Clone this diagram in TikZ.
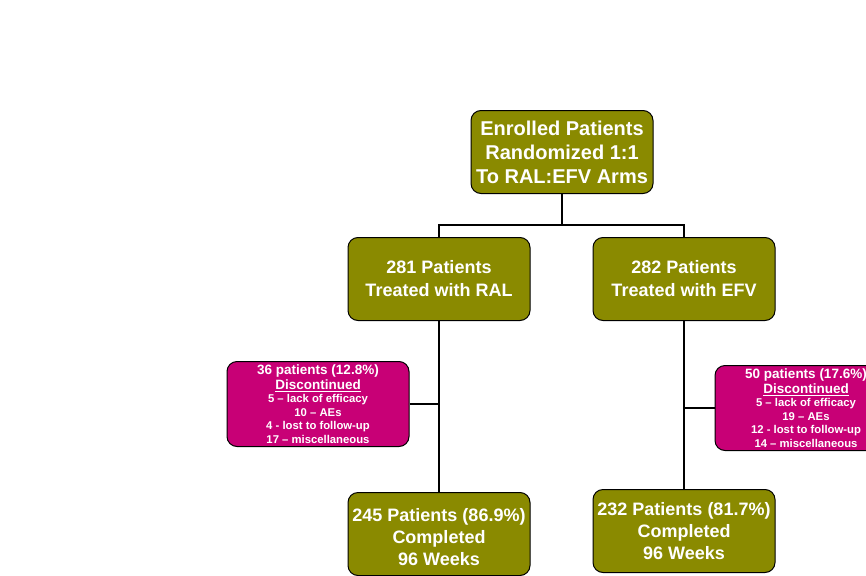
\documentclass[tikz,border=0pt]{standalone}
\usepackage{fontspec}
\setmainfont{Liberation Sans}
\definecolor{armolive}{RGB}{138,138,0}
\definecolor{discmag}{RGB}{200,0,118}

\begin{document}
\begin{tikzpicture}[x=1pt, y=-1pt,
        arm/.style = {draw, line width=1pt, rounded corners=10pt, fill=armolive, text=white, align=center, minimum width=182pt, minimum height=83pt, inner sep=0pt, font=\fontsize{18}{23}\selectfont\bfseries},
        disc/.style = {arm, fill=discmag, minimum height=85pt, font=\bfseries},
        link/.style = {line width=1.8pt}]
        \useasboundingbox (0,0) rectangle (866,575);
        \node [arm, font=\fontsize{20}{24}\selectfont\bfseries] (top) at (562, 152) {Enrolled Patients\\Randomized 1:1\\To RAL:EFV Arms};
        \node [arm] (ral) at (439, 279) {281 Patients\\Treated with RAL};
        \node [arm] (efv) at (684, 279) {282 Patients\\Treated with EFV};
        \node [disc] (discral) at (318, 404) {\fontsize{13.5}{15}\selectfont 36 patients (12.8\%)\\[1.5pt]\fontsize{13.5}{15}\selectfont\underline{Discontinued}\\[1pt]\fontsize{11.3}{14}\selectfont 5 -- lack of efficacy\\[1.5pt]\fontsize{11.3}{14}\selectfont 10 -- AEs\\[1.5pt]\fontsize{11.3}{14}\selectfont 4 - lost to follow-up\\[1.5pt]\fontsize{11.3}{14}\selectfont 17 -- miscellaneous};
        \node [disc] (discefv) at (806, 408) {\fontsize{13.5}{15}\selectfont 50 patients (17.6\%)\\[1.5pt]\fontsize{13.5}{15}\selectfont\underline{Discontinued}\\[1pt]\fontsize{11.3}{14}\selectfont 5 -- lack of efficacy\\[1.5pt]\fontsize{11.3}{14}\selectfont 19 -- AEs\\[1.5pt]\fontsize{11.3}{14}\selectfont 12 - lost to follow-up\\[1.5pt]\fontsize{11.3}{14}\selectfont 14 -- miscellaneous};
        \node [arm, font=\fontsize{18}{22}\selectfont\bfseries] (doneral) at (439, 534) {\\[-2pt]245 Patients (86.9\%)\\Completed\\96 Weeks};
        \node [arm, font=\fontsize{18}{22}\selectfont\bfseries] (doneefv) at (684, 531) {232 Patients (81.7\%)\\Completed\\96 Weeks};
        \coordinate (split) at (562, 225);
        \coordinate (ralbranch) at (439, 404);
        \coordinate (efvbranch) at (684, 408);
        \draw[link] (top) -- (split);
        \draw[link] (ral.north) |- (split) -| (efv.north);
        \draw[link] (ral) -- (doneral);
        \draw[link] (efv) -- (doneefv);
        \draw[link] (discral) -- (ralbranch);
        \draw[link] (discefv) -- (efvbranch);
\end{tikzpicture}
\end{document}
